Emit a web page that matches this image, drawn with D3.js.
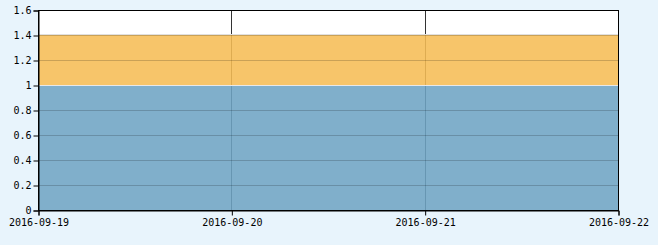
<!DOCTYPE html>
<html>
<head>
<meta charset="utf-8">
<script src="https://cdn.jsdelivr.net/npm/d3@7"></script>
<style>
  body { margin: 0; background: #e8f4fc; }
  text { font-family: "DejaVu Sans Mono", monospace; font-size: 10px; fill: #000; }
</style>
</head>
<body>
<div id="chart"></div>
<script>
// stacked area: two series over four days
var dates = ["2016-09-19", "2016-09-20", "2016-09-21", "2016-09-22"];
var seriesA = [1, 1, 1, 1];        // blue, bottom
var seriesB = [0.4, 0.4, 0.4, 0.4]; // orange, on top
var yTicks = [0, 0.2, 0.4, 0.6, 0.8, 1, 1.2, 1.4, 1.6];

var svgWidth = 658;
var svgHeight = 245;
var margin = { top: 10, right: 40, bottom: 35, left: 38 };
var width = svgWidth - margin.left - margin.right;
var height = svgHeight - margin.top - margin.bottom;

var svg = d3.select("#chart").append("svg")
  .attr("width", svgWidth)
  .attr("height", svgHeight);

var g = svg.append("g")
  .attr("transform", `translate(${margin.left}, ${margin.top})`);

var parse = d3.timeParse("%Y-%m-%d");
var rows = dates.map(function(d, i) {
  return { date: parse(d), a: seriesA[i], b: seriesB[i] };
});

var x = d3.scaleTime()
  .domain(d3.extent(rows, d => d.date))
  .range([0, width]);

var y = d3.scaleLinear()
  .domain([0, 1.6])
  .range([height, 0]);

// plot background
g.append("rect")
  .attr("width", width)
  .attr("height", height)
  .attr("fill", "#fff");

// vertical grid (dark, seen through the areas)
g.append("g").selectAll("line")
  .data(rows)
  .enter()
  .append("line")
  .attr("x1", d => Math.round(x(d.date)) + 0.5)
  .attr("x2", d => Math.round(x(d.date)) + 0.5)
  .attr("y1", 0)
  .attr("y2", height)
  .attr("stroke", "#333");

var stack = d3.stack().keys(["a", "b"]);
var layers = stack(rows);
var colors = ["#6ea4c4", "#f6bd55"];

var area = d3.area()
  .x(d => x(d.data.date))
  .y0(d => y(d[0]))
  .y1(d => y(d[1]));

g.append("g").selectAll("path")
  .data(layers)
  .enter()
  .append("path")
  .attr("d", area)
  .attr("fill", (d, i) => colors[i])
  .attr("fill-opacity", 0.88);

// horizontal grid
g.append("g").selectAll("line")
  .data(yTicks.slice(1, -1))
  .enter()
  .append("line")
  .attr("x1", 0)
  .attr("x2", width)
  .attr("y1", d => Math.round(y(d)) + 0.5)
  .attr("y2", d => Math.round(y(d)) + 0.5)
  .attr("stroke", "rgba(0,0,0,0.18)");

// light line on top of the blue layer, pale one on top of orange
g.append("line")
  .attr("x1", 0).attr("x2", width)
  .attr("y1", Math.round(y(d3.max(seriesA))) + 0.5)
  .attr("y2", Math.round(y(d3.max(seriesA))) + 0.5)
  .attr("stroke", "#e8e8e8");

g.append("line")
  .attr("x1", 0).attr("x2", width)
  .attr("y1", Math.round(y(d3.max(layers[1], d => d[1]))) - 0.5)
  .attr("y2", Math.round(y(d3.max(layers[1], d => d[1]))) - 0.5)
  .attr("stroke", "#e0e0e0");

// border
g.append("rect")
  .attr("x", 0.5).attr("y", 0.5)
  .attr("width", width).attr("height", height)
  .attr("fill", "none")
  .attr("stroke", "#000");

// axes
var bottomAxis = d3.axisBottom(x)
  .tickValues(rows.map(d => d.date))
  .tickFormat(d3.timeFormat("%Y-%m-%d"))
  .tickSize(5)
  .tickPadding(3);

var leftAxis = d3.axisLeft(y)
  .tickValues(yTicks)
  .tickFormat(d3.format("~g"))
  .tickSize(5)
  .tickPadding(2);

var xAxisG = g.append("g")
  .attr("transform", `translate(0.5, ${height + 0.5})`)
  .call(bottomAxis);

var yAxisG = g.append("g")
  .attr("transform", "translate(0.5, 0.5)")
  .call(leftAxis);

[xAxisG, yAxisG].forEach(function(ax) {
  ax.select(".domain").attr("stroke", "#000");
  ax.selectAll(".tick line").attr("stroke", "#000");
  ax.selectAll("text").attr("font-family", null).attr("font-size", null);
});
</script>
</body>
</html>
